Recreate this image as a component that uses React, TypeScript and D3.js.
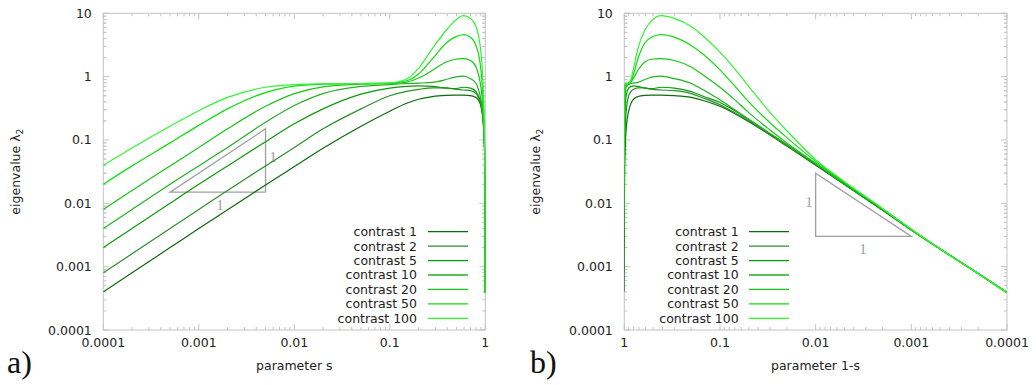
import React from "react";
import * as d3 from "d3";

// ---- data ----
const sValues = [1e-4, 2e-4, 5e-4, 1e-3, 2e-3, 5e-3, 0.01, 0.02, 0.05, 0.1, 0.15, 0.2, 0.28, 0.39, 0.48, 0.59, 0.7, 0.8, 0.85, 0.9, 0.93, 0.95, 0.97, 0.98, 0.99, 0.995, 0.998, 0.999, 0.9995, 0.9998, 0.9999];

const contrasts = [1, 2, 5, 10, 20, 50, 100];
const legendLabels = ["contrast 1", "contrast 2", "contrast 5", "contrast 10", "contrast 20", "contrast 50", "contrast 100"];

const lambdaC1 = [4e-4, 8e-4, 0.002, 0.004, 0.0079, 0.0195, 0.038, 0.074, 0.165, 0.285, 0.38, 0.44, 0.485, 0.505, 0.51, 0.51, 0.5, 0.47, 0.42, 0.34, 0.26, 0.195, 0.12, 0.08, 0.04, 0.0199, 0.0078, 0.0038, 0.0019, 0.00078, 0.00039];
const lambdaC2 = [8e-4, 0.0016, 0.004, 0.008, 0.016, 0.039, 0.076, 0.15, 0.31, 0.5, 0.585, 0.63, 0.665, 0.665, 0.635, 0.615, 0.6, 0.54, 0.46, 0.36, 0.27, 0.2, 0.122, 0.082, 0.041, 0.02, 0.0079, 0.0038, 0.0019, 0.00078, 0.00039];
const lambdaC5 = [0.002, 0.004, 0.01, 0.02, 0.039, 0.094, 0.18, 0.31, 0.53, 0.66, 0.7, 0.715, 0.7, 0.66, 0.645, 0.68, 0.66, 0.58, 0.49, 0.39, 0.29, 0.21, 0.127, 0.085, 0.042, 0.0202, 0.0079, 0.0038, 0.0019, 0.00078, 0.00039];
const lambdaC10 = [0.004, 0.008, 0.02, 0.039, 0.076, 0.19, 0.35, 0.54, 0.7, 0.75, 0.78, 0.79, 0.81, 0.9, 0.98, 1.02, 0.93, 0.78, 0.62, 0.43, 0.3, 0.212, 0.126, 0.084, 0.042, 0.0205, 0.008, 0.0038, 0.0019, 0.00078, 0.00039];
const lambdaC20 = [0.008, 0.016, 0.039, 0.076, 0.15, 0.34, 0.54, 0.69, 0.76, 0.78, 0.82, 0.95, 1.26, 1.7, 1.88, 1.92, 1.8, 1.42, 1.06, 0.68, 0.43, 0.27, 0.144, 0.09, 0.043, 0.021, 0.0081, 0.0039, 0.0019, 0.00078, 0.00039];
const lambdaC50 = [0.02, 0.039, 0.09, 0.17, 0.31, 0.56, 0.71, 0.76, 0.78, 0.79, 0.86, 1.1, 1.92, 3.4, 4.2, 4.6, 4.2, 3.1, 2.26, 1.28, 0.71, 0.4, 0.187, 0.109, 0.046, 0.0215, 0.0082, 0.0039, 0.0019, 0.00078, 0.00039];
const lambdaC100 = [0.04, 0.075, 0.165, 0.29, 0.47, 0.68, 0.75, 0.77, 0.78, 0.8, 0.92, 1.35, 2.8, 5.4, 7.6, 9.2, 8.3, 6.2, 4.39, 2.44, 1.33, 0.7, 0.273, 0.14, 0.049, 0.022, 0.0083, 0.0039, 0.0019, 0.00078, 0.00039];

const seriesValues = [lambdaC1, lambdaC2, lambdaC5, lambdaC10, lambdaC20, lambdaC50, lambdaC100];
const seriesColors = ["#0b6b0b", "#2a8f2a", "#0a9a0a", "#22b022", "#18c418", "#10dc10", "#30f530"];

const yTickValues = [10, 1, 0.1, 0.01, 0.001, 0.0001];
const yTickLabels = ["10", "1", "0.1", "0.01", "0.001", "0.0001"];
const xTickValuesA = [0.0001, 0.001, 0.01, 0.1, 1];
const xTickLabelsA = ["0.0001", "0.001", "0.01", "0.1", "1"];
const xTickValuesB = [1, 0.1, 0.01, 0.001, 0.0001];
const xTickLabelsB = ["1", "0.1", "0.01", "0.001", "0.0001"];

const triangleA = [[0.0005, 0.015], [0.005, 0.015], [0.005, 0.15]];
const triangleB = [[0.01, 0.03], [0.01, 0.003], [0.001, 0.003]];

// ---- layout ----
const W = 1036, H = 385;
const TOP = 13.3, BOTTOM = 330;
const FONT = "'DejaVu Sans', sans-serif";
const FRAME = "#c4c4c4";

const minorValues: number[] = [];
for (let e = -4; e <= 0; e++) for (let k = 2; k <= 9; k++) minorValues.push(k * Math.pow(10, e));

function Panel(props: any) {
  const { id, left, right, xDomain, mapS, xTicks, xLabels, tri, triLabels, legendTextX, legendLineX0, xLabel, xLabelX, yLabelX, letter, letterX } = props;
  const x = d3.scaleLog().domain(xDomain).range([left, right]);
  const y = d3.scaleLog().domain([1e-4, 10]).range([BOTTOM, TOP]);
  const line = d3.line<[number, number]>().x((d) => x(d[0])).y((d) => y(d[1])).curve(d3.curveMonotoneX);
  const triPath = d3.line<number[]>().x((d) => x(d[0])).y((d) => y(d[1]))(tri) + "Z";
  const rowY = (i: number) => 231.7 + i * 14.43;
  const xMinor = minorValues.filter((v) => v > 1e-4 && v < 1);
  const yMinor = minorValues.concat(minorValues.map((v) => v * 10)).filter((v) => v > 1e-4 && v < 10);
  return (
    <g>
      <defs>
        <clipPath id={"clip" + id}>
          <rect x={left} y={TOP - 1} width={right - left} height={BOTTOM - TOP + 2} />
        </clipPath>
      </defs>
      <rect x={left} y={TOP} width={right - left} height={BOTTOM - TOP} fill="none" stroke={FRAME} strokeWidth={1} />
      {xMinor.map((v, i) => (
        <g key={"xm" + i} stroke={FRAME} strokeWidth={1}>
          <line x1={x(v)} x2={x(v)} y1={BOTTOM} y2={BOTTOM - 3} />
          <line x1={x(v)} x2={x(v)} y1={TOP} y2={TOP + 3} />
        </g>
      ))}
      {xTicks.map((v: number, i: number) => (
        <g key={"xt" + i}>
          <line x1={x(v)} x2={x(v)} y1={BOTTOM} y2={BOTTOM - 6} stroke={FRAME} />
          <line x1={x(v)} x2={x(v)} y1={TOP} y2={TOP + 6} stroke={FRAME} />
          <text x={x(v)} y={347} textAnchor="middle" fontFamily={FONT} fontSize={12.5} fill="#222">{xLabels[i]}</text>
        </g>
      ))}
      {yMinor.map((v, i) => (
        <g key={"ym" + i} stroke={FRAME} strokeWidth={1}>
          <line x1={left} x2={left + 3} y1={y(v)} y2={y(v)} />
          <line x1={right} x2={right - 3} y1={y(v)} y2={y(v)} />
        </g>
      ))}
      {yTickValues.map((v, i) => (
        <g key={"yt" + i}>
          <line x1={left} x2={left + 6} y1={y(v)} y2={y(v)} stroke={FRAME} />
          <line x1={right} x2={right - 6} y1={y(v)} y2={y(v)} stroke={FRAME} />
          <text x={left - 11.5} y={y(v) + 4.5} textAnchor="end" fontFamily={FONT} fontSize={12.5} fill="#222">{yTickLabels[i]}</text>
        </g>
      ))}
      <path d={triPath} fill="none" stroke="#a0a0a0" strokeWidth={1.3} />
      {triLabels.map((t: any, i: number) => (
        <text key={"tl" + i} x={t[0]} y={t[1]} textAnchor="middle" fontFamily="'Liberation Serif', serif" fontSize={15} fill="#a0a0a0">1</text>
      ))}
      <g clipPath={`url(#clip${id})`}>
        {seriesValues.map((vals, si) => {
          const pts: [number, number][] = sValues.map((s, k) => [mapS(s), vals[k]]);
          return <path key={"s" + si} d={line(pts) || ""} fill="none" stroke={seriesColors[si]} strokeWidth={1.2} />;
        })}
      </g>
      {legendLabels.map((lab, i) => (
        <g key={"lg" + i}>
          <text x={legendTextX} y={rowY(i) + 4.5} textAnchor="end" fontFamily={FONT} fontSize={12.5} fill="#222">{lab}</text>
          <line x1={legendLineX0} x2={legendLineX0 + 40} y1={rowY(i)} y2={rowY(i)} stroke={seriesColors[i]} strokeWidth={1.3} />
        </g>
      ))}
      <text transform={`translate(${yLabelX},${(TOP + BOTTOM) / 2}) rotate(-90)`} textAnchor="middle" fontFamily={FONT} fontSize={12.5} fill="#222">
        eigenvalue λ<tspan fontSize={9} dy={3}>2</tspan>
      </text>
      <text x={xLabelX} y={370} textAnchor="middle" fontFamily={FONT} fontSize={12.5} fill="#222">{xLabel}</text>
      <text x={letterX} y={373} fontFamily="'Liberation Serif', serif" fontSize={32} fill="#111">{letter}</text>
    </g>
  );
}

export default function App() {
  return (
    <svg width={W} height={H} style={{ position: "absolute", left: 0, top: 0, background: "#fff" }}>
      <rect width={W} height={H} fill="#fff" />
      <Panel id="a" left={103.3} right={485.3} xDomain={[1e-4, 1]} mapS={(s: number) => s}
        xTicks={xTickValuesA} xLabels={xTickLabelsA} tri={triangleA}
        triLabels={[[220, 210], [273, 162]]}
        legendTextX={417} legendLineX0={428} xLabel="parameter s" xLabelX={294.3} yLabelX={20} letter="a)" letterX={7} />
      <Panel id="b" left={624.3} right={1007} xDomain={[1, 1e-4]} mapS={(s: number) => 1 - s}
        xTicks={xTickValuesB} xLabels={xTickLabelsB} tri={triangleB}
        triLabels={[[809, 207], [863, 254]]}
        legendTextX={738.7} legendLineX0={749} xLabel="parameter 1-s" xLabelX={815.5} yLabelX={540} letter="b)" letterX={530} />
    </svg>
  );
}
